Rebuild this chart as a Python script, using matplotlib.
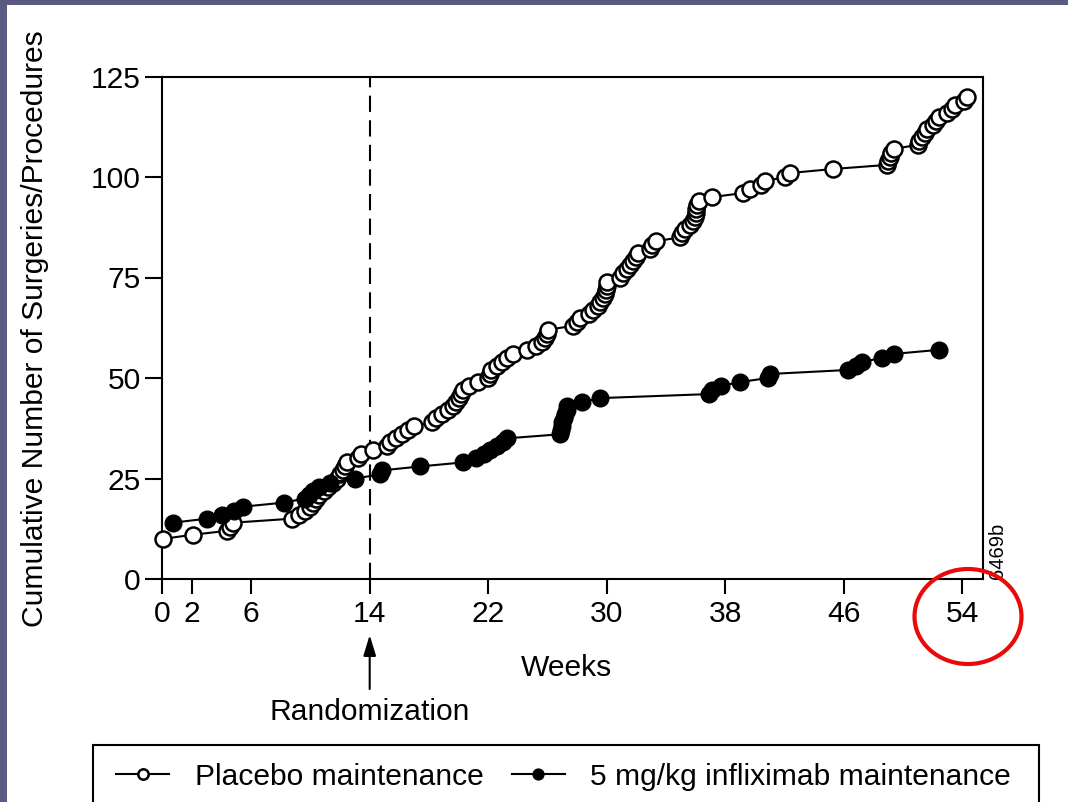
import matplotlib
matplotlib.use("Agg")
import matplotlib.pyplot as plt
from matplotlib.patches import Ellipse, Rectangle

# ---------------- data ----------------
placebo_weeks = [0.07, 2.05, 4.39, 4.6, 4.75, 8.74, 9.25, 9.64, 9.97, 10.2,
                 10.4, 10.6, 10.9, 11.2, 11.5, 11.8, 12.0, 12.2, 12.35, 12.5,
                 13.2, 13.4, 14.2, 15.2, 15.4, 15.8, 16.2, 16.6, 17.0, 18.2,
                 18.5, 18.9, 19.3, 19.6, 19.8, 20.0, 20.15, 20.3, 20.7, 21.3,
                 22.0, 22.1, 22.2, 22.6, 22.9, 23.3, 23.7, 24.6, 25.2, 25.6,
                 25.8, 25.95, 26.05, 27.75, 28.0, 28.2, 28.8, 29.1, 29.4, 29.55,
                 29.75, 29.9, 29.95, 30.0, 30.05, 30.9, 31.1, 31.4, 31.6, 31.8,
                 31.95, 32.1, 32.9, 33.05, 33.3, 34.95, 35.1, 35.3, 35.6, 35.8,
                 35.97, 36.0, 36.05, 36.1, 36.2, 37.1, 39.2, 39.7, 40.4, 40.7,
                 42.05, 42.4, 45.3, 48.9, 49.0, 49.1, 49.2, 49.4, 51.0, 51.1,
                 51.3, 51.5, 51.6, 52.0, 52.2, 52.4, 52.96, 53.3, 53.5, 54.1,
                 54.3]
placebo_counts = [10, 11, 12, 13, 14, 15, 16, 17, 18, 19,
                  20, 21, 22, 23, 24, 25, 26, 27, 28, 29,
                  30, 31, 32, 33, 34, 35, 36, 37, 38, 39,
                  40, 41, 42, 43, 44, 45, 46, 47, 48, 49,
                  50, 51, 52, 53, 54, 55, 56, 57, 58, 59,
                  60, 61, 62, 63, 64, 65, 66, 67, 68, 69,
                  70, 71, 72, 73, 74, 75, 76, 77, 78, 79,
                  80, 81, 82, 83, 84, 85, 86, 87, 88, 89,
                  90, 91, 92, 93, 94, 95, 96, 97, 98, 99,
                  100, 101, 102, 103, 104, 105, 106, 107, 108, 109,
                  110, 111, 112, 113, 114, 115, 116, 117, 118, 119,
                  120]

infliximab_weeks = [0.7, 3.0, 4.0, 4.86, 5.47, 8.2, 9.6, 9.9, 10.2, 10.6,
                    11.3, 13.0, 14.7, 14.8, 17.4, 20.3, 21.2, 21.7, 22.1, 22.6,
                    23.0, 23.3, 26.85, 26.9, 26.95, 27.0, 27.1, 27.2, 27.3, 27.35,
                    28.3, 29.55, 36.9, 37.1, 37.7, 39.0, 40.9, 41.0, 46.3, 46.8,
                    47.2, 48.6, 49.4, 52.4]
infliximab_counts = [14, 15, 16, 17, 18, 19, 20, 21, 22, 23,
                     24, 25, 26, 27, 28, 29, 30, 31, 32, 33,
                     34, 35, 36, 37, 38, 39, 40, 41, 42, 43,
                     44, 45, 46, 47, 48, 49, 50, 51, 52, 53,
                     54, 55, 56, 57]

x_ticks = [0, 2, 6, 14, 22, 30, 38, 46, 54]
y_ticks = [0, 25, 50, 75, 100, 125]
randomization_week = 14
series_labels = ["Placebo maintenance", "5 mg/kg infliximab maintenance"]

# ---------------- figure ----------------
plt.rcParams['font.family'] = ['Liberation Sans', 'DejaVu Sans']
FS = 21.6
W, H = 1068, 802
fig = plt.figure(figsize=(W / 100, H / 100), dpi=100)
fig.patch.set_facecolor('white')

ax = fig.add_axes([162.3 / W, (H - 579) / H, (983 - 162.3) / W, 502.5 / H])
ax.set_xlim(0, 55.4)
ax.set_ylim(0, 125)

ax.axvline(randomization_week, color='black', lw=1.5, dashes=(7.8, 4.0), zorder=1)

l_plac, = ax.plot(placebo_weeks, placebo_counts, color='black', lw=1.5,
                  marker='o', ms=11.5, mfc='white', mec='black', mew=1.8, zorder=3,
                  clip_on=False)
l_infl, = ax.plot(infliximab_weeks, infliximab_counts, color='black', lw=1.5,
                  marker='o', ms=12, mfc='black', mec='black', mew=1.0, zorder=4,
                  clip_on=False)

for s in ax.spines.values():
    s.set_linewidth(1.5)

ax.set_xticks(x_ticks)
ax.set_yticks(y_ticks)
ax.tick_params(axis='x', direction='out', length=10.8, width=1.5, pad=4,
               labelsize=FS)
ax.tick_params(axis='y', direction='out', length=12, width=1.5, pad=3.5,
               labelsize=FS)

ax.set_ylabel("Cumulative Number of Surgeries/Procedures", fontsize=FS)
ax.yaxis.set_label_coords(-0.155, 0.4975)
ax.yaxis.label.set_va('center')

ax.set_xlabel("Weeks", fontsize=FS)
ax.xaxis.set_label_coords(0.493, (579 - 668) / 502.5)
ax.xaxis.label.set_va('center')

# Randomization arrow
ax.annotate("", xy=(randomization_week, (579 - 635) / 502.5),
            xytext=(randomization_week, (579 - 689) / 502.5),
            xycoords=('data', 'axes fraction'), textcoords=('data', 'axes fraction'),
            arrowprops=dict(arrowstyle='-|>,head_length=1.25,head_width=0.38',
                            lw=1.5, color='black', shrinkA=0, shrinkB=0),
            annotation_clip=False)
ax.text(randomization_week, (579 - 712) / 502.5, "Randomization", fontsize=FS,
        ha='center', va='center', transform=ax.get_xaxis_transform())

# figure code at right
ax.text(1.0 + 15 / 820.7, 0.0, "6469b", rotation=90, fontsize=14.5,
        ha='center', va='bottom', transform=ax.transAxes)

# legend
leg = fig.legend([l_plac, l_infl], series_labels, loc='center left',
                 bbox_to_anchor=(116 / W, 1 - 776.7 / H), ncol=2, frameon=False,
                 fontsize=FS, markerscale=0.65, handlelength=1.77,
                 handletextpad=0.85, columnspacing=0.95, borderpad=0,
                 borderaxespad=0)
fig.patches.append(Rectangle((93 / W, -0.05), (1039 - 93) / W, 0.05 + 57 / H,
                             transform=fig.transFigure, fill=False,
                             lw=1.5, ec='black', figure=fig))

# red highlight ellipse around 54
fig.patches.append(Ellipse((968 / W, 1 - 616.5 / H), 107 / W, 95 / H,
                           transform=fig.transFigure, fill=False, lw=3,
                           ec=(0.92, 0.04, 0.04), figure=fig, zorder=10))

# slide border bands
border = (0.35, 0.36, 0.50)
fig.patches.append(Rectangle((0, 1 - 5 / H), 1, 5 / H, transform=fig.transFigure,
                             fc=border, ec='none', figure=fig))
fig.patches.append(Rectangle((0, 0), 7 / W, 1, transform=fig.transFigure,
                             fc=border, ec='none', figure=fig))

fig.savefig("out.png", dpi=100)
